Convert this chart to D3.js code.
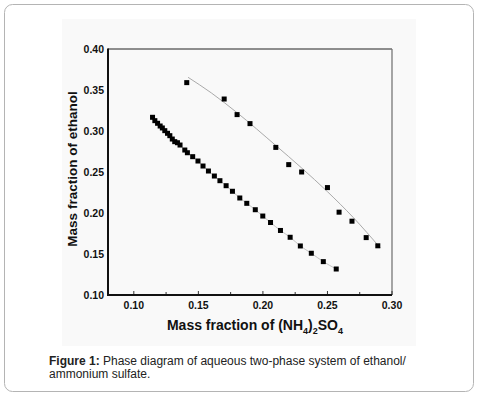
<!DOCTYPE html>
<html>
<head>
<meta charset="utf-8">
<script src="https://cdn.jsdelivr.net/npm/d3@7"></script>
<style>
  body { margin: 0; background: #fff; }
  svg { display: block; font-family: "Liberation Sans", Arial, sans-serif; }
</style>
</head>
<body>
<script>
// upper series (squares + fitted curve)
const upperX = [0.141, 0.170, 0.180, 0.190, 0.210, 0.220, 0.230, 0.250, 0.259, 0.269, 0.280, 0.289];
const upperY = [0.359, 0.339, 0.320, 0.309, 0.280, 0.259, 0.250, 0.231, 0.201, 0.190, 0.170, 0.160];
const fitX = [0.142, 0.160, 0.180, 0.210, 0.230, 0.250, 0.270, 0.291];
const fitY = [0.3655, 0.3465, 0.3223, 0.2823, 0.2549, 0.2260, 0.1945, 0.1573];

// lower series (binodal points)
const lowerX = [0.1145, 0.1163, 0.1184, 0.1204, 0.1221, 0.1240, 0.1261, 0.1279, 0.1298, 0.1317,
  0.1338, 0.1358, 0.1395, 0.1415, 0.1456, 0.1497, 0.1536, 0.1578, 0.1624, 0.1667, 0.1715,
  0.1764, 0.1821, 0.1875, 0.1941, 0.1999, 0.2059, 0.2136, 0.2211, 0.2290, 0.2375, 0.2468, 0.2568];
const lowerY = [0.3167, 0.3126, 0.3094, 0.3061, 0.3037, 0.3004, 0.2972, 0.2943, 0.2902, 0.2870,
  0.2857, 0.2829, 0.2768, 0.2735, 0.2687, 0.2634, 0.2573, 0.2512, 0.2451, 0.2394, 0.2333,
  0.2265, 0.2183, 0.2118, 0.2040, 0.1963, 0.1884, 0.1787, 0.1704, 0.1598, 0.1509, 0.1407, 0.1317];

const xTicks = [0.10, 0.15, 0.20, 0.25, 0.30];
const xMinor = [0.125, 0.175, 0.225, 0.275];
const yTicks = [0.10, 0.15, 0.20, 0.25, 0.30, 0.35, 0.40];

const W = 478, H = 398;
const svg = d3.select("body").append("svg").attr("width", W).attr("height", H);

// outer frame + grey panel
svg.append("rect").attr("x", 4.5).attr("y", 4.5).attr("width", 469).attr("height", 387)
  .attr("rx", 8).attr("fill", "#fff").attr("stroke", "#b4b4b4");
svg.append("rect").attr("x", 62).attr("y", 19).attr("width", 354).attr("height", 327)
  .attr("fill", "#f9f9f9");

const L = 108, R = 392, T = 49, B = 295;
const x = d3.scaleLinear().domain([0.08, 0.30]).range([L, R]);
const y = d3.scaleLinear().domain([0.10, 0.40]).range([B, T]);

// frame
svg.append("line").attr("x1", L).attr("x2", R).attr("y1", T).attr("y2", T).attr("stroke", "#222").attr("stroke-width", 1);
svg.append("line").attr("x1", R).attr("x2", R).attr("y1", T).attr("y2", B).attr("stroke", "#777").attr("stroke-width", 1.3);

// x ticks (inward)
const xAxis = svg.append("g").attr("transform", `translate(0,${B})`);
xAxis.selectAll(".maj").data(xTicks).join("line")
  .attr("x1", d => x(d)).attr("x2", d => x(d)).attr("y1", 0).attr("y2", -4)
  .attr("stroke", "#333");
xAxis.selectAll(".min").data(xMinor).join("line")
  .attr("x1", d => x(d)).attr("x2", d => x(d)).attr("y1", 0).attr("y2", -3)
  .attr("stroke", "#333");
xAxis.selectAll("text").data(xTicks).join("text")
  .attr("x", d => x(d)).attr("y", 14).attr("text-anchor", "middle")
  .attr("font-size", 10.5).attr("font-weight", "bold").attr("fill", "#111")
  .text(d => d3.format(".2f")(d));

const yAxis = svg.append("g");
yAxis.selectAll("text").data(yTicks).join("text")
  .attr("x", L - 4).attr("y", d => y(d) + 4).attr("text-anchor", "end")
  .attr("font-size", 10.5).attr("font-weight", "bold").attr("fill", "#111")
  .text(d => d3.format(".2f")(d));

// thick left/bottom axes
svg.append("line").attr("x1", L).attr("x2", L).attr("y1", T - 0.5).attr("y2", B + 1).attr("stroke", "#111").attr("stroke-width", 2);
svg.append("line").attr("x1", L - 1).attr("x2", R).attr("y1", B).attr("y2", B).attr("stroke", "#111").attr("stroke-width", 2);

// curves
const line = d3.line().curve(d3.curveMonotoneX);
svg.append("path")
  .attr("d", line(fitX.map((d, i) => [x(d), y(fitY[i])])))
  .attr("fill", "none").attr("stroke", "#aaa").attr("stroke-width", 1);
svg.append("path")
  .attr("d", line(lowerX.map((d, i) => [x(d), y(lowerY[i])])))
  .attr("fill", "none").attr("stroke", "#c4c4c4").attr("stroke-width", 1);

const s = 5;
svg.append("g").selectAll("rect").data(upperX).join("rect")
  .attr("x", (d, i) => x(d) - s / 2).attr("y", (d, i) => y(upperY[i]) - s / 2)
  .attr("width", s).attr("height", s).attr("fill", "#000");
svg.append("g").selectAll("rect").data(lowerX).join("rect")
  .attr("x", (d, i) => x(d) - s / 2).attr("y", (d, i) => y(lowerY[i]) - s / 2)
  .attr("width", s).attr("height", s).attr("fill", "#000");

// axis titles
const xt = svg.append("text").attr("x", (L + R) / 2 + 5).attr("y", 330)
  .attr("text-anchor", "middle").attr("font-size", 14).attr("font-weight", "bold").attr("fill", "#111");
xt.append("tspan").text("Mass fraction of (NH");
xt.append("tspan").attr("font-size", 9).attr("dy", 4).text("4");
xt.append("tspan").attr("dy", -4).text(")");
xt.append("tspan").attr("font-size", 9).attr("dy", 4).text("2");
xt.append("tspan").attr("dy", -4).text("SO");
xt.append("tspan").attr("font-size", 9).attr("dy", 4).text("4");

svg.append("text").attr("transform", `translate(77,${(T + B) / 2 - 3})rotate(-90)`)
  .attr("text-anchor", "middle").attr("font-size", 13.5).attr("font-weight", "bold").attr("fill", "#111")
  .text("Mass fraction of ethanol");

// caption
const cap = svg.append("text").attr("x", 49).attr("y", 365).attr("font-size", 12).attr("fill", "#222");
cap.append("tspan").attr("font-weight", "bold").text("Figure 1:");
cap.append("tspan").text(" Phase diagram of aqueous two-phase system of ethanol/");
svg.append("text").attr("x", 49).attr("y", 378).attr("font-size", 12).attr("fill", "#222")
  .text("ammonium sulfate.");
</script>
</body>
</html>
